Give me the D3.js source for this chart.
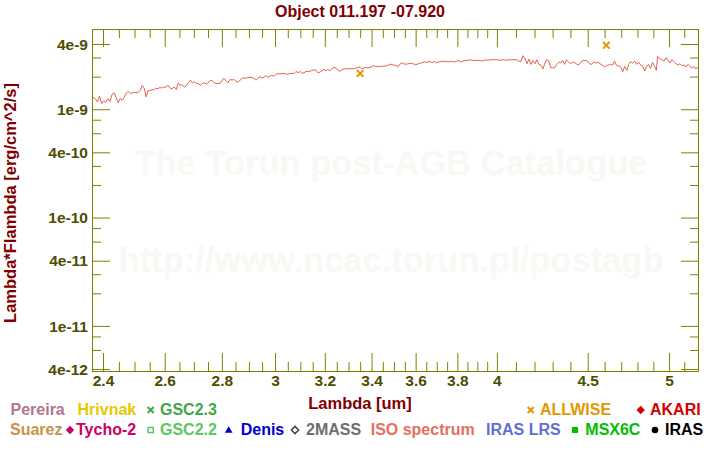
<!DOCTYPE html>
<html>
<head>
<meta charset="utf-8">
<script src="https://cdn.jsdelivr.net/npm/d3@7"></script>
<style>
  html, body { margin: 0; padding: 0; background: #fff; }
  svg { display: block; font-family: "Liberation Sans", Arial, sans-serif; font-weight: bold; }
</style>
</head>
<body>
<svg id="chart" width="720" height="450"></svg>
<script>
// ---- chart data ----
const title = "Object 011.197 -07.920";

const xTickValues = [2.4, 2.6, 2.8, 3, 3.2, 3.4, 3.6, 3.8, 4, 4.5, 5];
const xTickLabels = ["2.4", "2.6", "2.8", "3", "3.2", "3.4", "3.6", "3.8", "4", "4.5", "5"];
const xMinorTicks = [2.45, 2.5, 2.55, 2.65, 2.7, 2.75, 2.85, 2.9, 2.95, 3.05, 3.1, 3.15,
  3.25, 3.3, 3.35, 3.45, 3.5, 3.55, 3.65, 3.7, 3.75, 3.85, 3.9, 3.95,
  4.1, 4.2, 4.3, 4.4, 4.6, 4.7, 4.8, 4.9, 5.1];

const yTickValues = [4e-12, 1e-11, 4e-11, 1e-10, 4e-10, 1e-9, 4e-9];
const yTickLabels = ["4e-12", "1e-11", "4e-11", "1e-10", "4e-10", "1e-9", "4e-9"];
const yMinorTicks = [6e-12, 8e-12, 2e-11, 3e-11, 6e-11, 8e-11, 2e-10, 3e-10, 6e-10, 8e-10, 2e-9, 3e-9];

// ISO spectrum, wavelength in um, flux in 1e-9 erg/cm^2/s
const isoWave = [
  2.365, 2.370, 2.376, 2.383, 2.389, 2.396, 2.402, 2.409, 2.415, 2.422,
  2.428, 2.435, 2.441, 2.448, 2.454, 2.461, 2.467, 2.474, 2.480, 2.487,
  2.493, 2.499, 2.512, 2.519, 2.525, 2.532, 2.538, 2.545, 2.551, 2.558,
  2.564, 2.571, 2.577, 2.584, 2.590, 2.597, 2.604, 2.611, 2.618, 2.625,
  2.632, 2.639, 2.646, 2.653, 2.660, 2.667, 2.674, 2.681, 2.688, 2.695,
  2.702, 2.709, 2.716, 2.723, 2.730, 2.737, 2.744, 2.751, 2.758, 2.765,
  2.772, 2.779, 2.793, 2.800, 2.807, 2.815, 2.822, 2.830, 2.837, 2.845,
  2.852, 2.860, 2.867, 2.875, 2.890, 2.897, 2.912, 2.920, 2.927, 2.935,
  2.942, 2.950, 2.957, 2.965, 2.972, 2.980, 2.987, 2.995, 3.003, 3.011,
  3.019, 3.027, 3.035, 3.043, 3.051, 3.059, 3.075, 3.083, 3.091, 3.099,
  3.107, 3.115, 3.123, 3.139, 3.147, 3.163, 3.171, 3.180, 3.188, 3.196,
  3.204, 3.212, 3.221, 3.230, 3.238, 3.247, 3.255, 3.264, 3.272, 3.290,
  3.324, 3.341, 3.350, 3.358, 3.367, 3.375, 3.384, 3.392, 3.401, 3.410,
  3.419, 3.428, 3.437, 3.446, 3.464, 3.473, 3.483, 3.492, 3.510, 3.519,
  3.528, 3.537, 3.546, 3.564, 3.573, 3.582, 3.591, 3.600, 3.610, 3.620,
  3.629, 3.639, 3.658, 3.668, 3.677, 3.687, 3.697, 3.706, 3.725, 3.745,
  3.754, 3.764, 3.774, 3.783, 3.793, 3.803, 3.813, 3.823, 3.833, 3.843,
  3.853, 3.863, 3.873, 3.914, 3.924, 3.934, 3.944, 3.954, 3.964, 4.005,
  4.016, 4.027, 4.038, 4.049, 4.060, 4.104, 4.115, 4.126, 4.137, 4.148,
  4.159, 4.170, 4.181, 4.192, 4.203, 4.213, 4.224, 4.235, 4.246, 4.257,
  4.268, 4.279, 4.290, 4.301, 4.312, 4.323, 4.334, 4.345, 4.356, 4.367,
  4.378, 4.389, 4.400, 4.411, 4.422, 4.433, 4.444, 4.455, 4.466, 4.477,
  4.499, 4.511, 4.523, 4.536, 4.548, 4.561, 4.573, 4.585, 4.598, 4.610,
  4.622, 4.635, 4.647, 4.659, 4.672, 4.684, 4.697, 4.709, 4.721, 4.734,
  4.746, 4.758, 4.771, 4.783, 4.795, 4.808, 4.820, 4.832, 4.845, 4.857,
  4.869, 4.882, 4.894, 4.906, 4.919, 4.927, 4.944, 4.956, 4.968, 4.981,
  4.993, 5.006, 5.019, 5.032, 5.046, 5.059, 5.072, 5.085, 5.099, 5.112,
  5.125, 5.138, 5.152, 5.165, 5.178, 5.191
];
const isoFlux = [
  1.230, 1.284, 1.246, 1.168, 1.320, 1.130, 1.194, 1.161, 1.246, 1.178,
  1.368, 1.416, 1.284, 1.144, 1.257, 1.212, 1.284, 1.416, 1.459, 1.398,
  1.416, 1.428, 1.428, 1.500, 1.657, 1.555, 1.299, 1.500, 1.478, 1.522,
  1.500, 1.565, 1.542, 1.589, 1.565, 1.609, 1.589, 1.669, 1.565, 1.542,
  1.609, 1.522, 1.752, 1.657, 1.679, 1.609, 1.657, 1.752, 1.856, 1.752,
  1.806, 1.730, 1.730, 1.657, 1.730, 1.752, 1.704, 1.752, 1.840, 1.836,
  1.752, 1.730, 1.730, 1.830, 1.937, 1.830, 1.752, 1.884, 1.856, 1.884,
  1.806, 1.779, 1.856, 1.937, 1.937, 1.966, 1.966, 1.908, 1.856, 1.937,
  1.992, 1.937, 1.966, 2.052, 1.966, 2.022, 2.052, 2.022, 2.079, 2.140,
  2.110, 2.140, 2.140, 2.110, 2.110, 2.140, 2.140, 2.234, 2.171, 2.234,
  2.140, 2.171, 2.234, 2.234, 2.298, 2.298, 2.171, 2.202, 2.263, 2.332,
  2.263, 2.332, 2.263, 2.382, 2.431, 2.398, 2.298, 2.234, 2.332, 2.363,
  2.363, 2.431, 2.465, 2.363, 2.398, 2.431, 2.398, 2.431, 2.465, 2.537,
  2.465, 2.502, 2.465, 2.502, 2.502, 2.537, 2.611, 2.572, 2.537, 2.465,
  2.611, 2.686, 2.611, 2.611, 2.650, 2.650, 2.611, 2.572, 2.611, 2.650,
  2.686, 2.725, 2.725, 2.766, 2.686, 2.766, 2.686, 2.725, 2.766, 2.766,
  2.725, 2.766, 2.766, 2.737, 2.745, 2.825, 2.745, 2.745, 2.825, 2.825,
  2.825, 2.862, 2.825, 2.825, 2.784, 2.825, 2.862, 2.825, 2.862, 2.862,
  2.825, 2.862, 2.862, 2.825, 2.862, 2.862, 2.784, 2.745, 3.117, 2.949,
  2.628, 2.905, 2.592, 2.825, 2.628, 2.862, 2.592, 2.556, 2.347, 2.668,
  2.862, 2.784, 2.413, 2.413, 2.413, 2.592, 2.707, 2.668, 2.825, 2.592,
  2.862, 2.745, 2.628, 2.707, 2.707, 2.628, 2.556, 2.628, 2.784, 2.825,
  2.784, 2.628, 2.592, 2.745, 2.668, 2.707, 2.628, 2.556, 2.449, 2.518,
  2.556, 2.592, 2.556, 2.784, 2.518, 2.518, 2.449, 2.216, 2.486, 2.283,
  2.592, 2.745, 2.668, 2.784, 2.592, 2.707, 2.556, 2.518, 2.249, 2.486,
  2.592, 2.381, 2.707, 2.518, 2.283, 3.077, 2.905, 2.862, 2.784, 2.988,
  2.825, 2.668, 2.862, 2.745, 2.628, 2.556, 2.628, 2.518, 2.556, 2.449,
  2.592, 2.486, 2.381, 2.486, 2.347, 2.449
];

// ALLWISE photometry, same units
const allwiseWave = [3.35, 4.61];
const allwiseFlux = [2.14, 3.89];

// legend entries
const legendNames = ["Pereira", "Hrivnak", "GSC2.3", "ALLWISE", "AKARI",
  "Suarez", "Tycho-2", "GSC2.2", "Denis", "2MASS", "ISO spectrum", "IRAS LRS", "MSX6C", "IRAS"];
const legendSymbols = [null, null, "times", "times", "diamond",
  null, "diamond", "squareOpen", "triangle", "diamondOpen", null, null, "square", "circle"];

// ---- styles / layout ----
const colors = {
  "Pereira": "#b27592", "Hrivnak": "#e8c800", "GSC2.3": "#40a848", "ALLWISE": "#e09a00",
  "AKARI": "#d40000", "Suarez": "#c8924a", "Tycho-2": "#cc0066", "GSC2.2": "#5cc860",
  "Denis": "#0000cc", "2MASS": "#6e6e6e", "ISO spectrum": "#e4705e", "IRAS LRS": "#6070d0",
  "MSX6C": "#00c000", "IRAS": "#000000"
};
const markerColors = { "2MASS": "#444444" };
// text x, marker x, row
const legendPos = [
  [10.5, null, 0], [77.5, null, 0], [160, 150.7, 0], [540, 530.7, 0], [650, 640.7, 0],
  [10, null, 1], [76, 70, 1], [160, 150.7, 1], [240.7, 228.7, 1], [306, 295, 1],
  [370.7, null, 1], [486, null, 1], [585.3, 575, 1], [665, 655, 1]
];
const rowBaseline = [415, 435];

const axisColor = "#808000";
const tickLabelColor = "#4d4d00";
const titleColor = "#800000";
const lineColor = "#e26350";

const svg = d3.select("#chart");

const x = d3.scaleLog().domain([2.366, 5.192]).range([92, 698]);
const y = d3.scaleLog().domain([3.92e-12, 5.5e-9]).range([370, 29]);
const [x0, x1] = x.range();
const [y0, y1] = y.range();

svg.append("rect").attr("width", 720).attr("height", 450).attr("fill", "#fff");

// watermark
svg.append("g")
  .attr("fill", "#f9f8f4")
  .attr("font-size", 34.5)
  .attr("text-anchor", "middle")
  .selectAll("text")
  .data([["The Torun post-AGB Catalogue", 175], ["http://www.ncac.torun.pl/postagb", 272]])
  .join("text")
  .attr("x", 391)
  .attr("y", (d) => d[1])
  .text((d) => d[0]);

// spectrum
svg.append("clipPath").attr("id", "clip")
  .append("rect").attr("x", x0).attr("y", y1).attr("width", x1 - x0).attr("height", y0 - y1);

const spectrum = isoWave.map((w, i) => [w, isoFlux[i] * 1e-9]);
svg.append("path")
  .datum(spectrum)
  .attr("clip-path", "url(#clip)")
  .attr("fill", "none")
  .attr("stroke", lineColor)
  .attr("stroke-width", 1)
  .attr("d", d3.line().x((d) => x(d[0])).y((d) => y(d[1])));

// ALLWISE points
const cross = (r) => `M${-r},${-r}L${r},${r}M${-r},${r}L${r},${-r}`;
svg.append("g")
  .selectAll("path")
  .data(allwiseWave.map((w, i) => [w, allwiseFlux[i] * 1e-9]))
  .join("path")
  .attr("transform", (d) => `translate(${x(d[0])},${y(d[1])})`)
  .attr("d", cross(3.3))
  .attr("stroke", colors["ALLWISE"])
  .attr("stroke-width", 2)
  .attr("fill", "none");

// axes
function styleAxis(g, labelSize) {
  g.attr("font-size", null).attr("font-family", null);
  g.select(".domain").remove();
  g.selectAll(".tick line").attr("stroke", axisColor);
  g.selectAll(".tick text").attr("fill", tickLabelColor).attr("font-size", labelSize);
}

const axes = [
  { make: () => d3.axisBottom(x), t: `translate(0,${y0 + 1})`, major: xTickValues, minor: xMinorTicks, labels: xTickLabels },
  { make: () => d3.axisTop(x), t: `translate(0,${y1})`, major: xTickValues, minor: xMinorTicks },
  { make: () => d3.axisLeft(y), t: `translate(${x0},0)`, major: yTickValues, minor: yMinorTicks, labels: yTickLabels },
  { make: () => d3.axisRight(y), t: `translate(${x1 + 1},0)`, major: yTickValues, minor: yMinorTicks }
];

axes.forEach((a) => {
  svg.append("g").attr("transform", a.t)
    .call(a.make().tickValues(a.minor).tickSize(-9).tickFormat(""))
    .call((g) => styleAxis(g, 15.5));
  const g = svg.append("g").attr("transform", a.t)
    .call(a.make().tickValues(a.major).tickSize(-18).tickPadding(4)
      .tickFormat(a.labels ? (d, i) => a.labels[i] : ""))
    .call((g) => styleAxis(g, 15.5));
  if (a.labels === xTickLabels) {
    g.selectAll(".tick text").attr("y", 15).attr("dy", null);
  }
  if (a.labels === yTickLabels) {
    g.selectAll(".tick text").attr("dy", "0.34em");
  }
});

// frame
svg.append("rect")
  .attr("x", x0 + 0.5).attr("y", y1 + 0.5)
  .attr("width", x1 - x0).attr("height", y0 - y1 + 1)
  .attr("fill", "none").attr("stroke", axisColor);

// titles
svg.append("text")
  .attr("x", 360).attr("y", 17)
  .attr("text-anchor", "middle")
  .attr("font-size", 16)
  .attr("fill", titleColor)
  .text(title);

svg.append("text")
  .attr("x", 360).attr("y", 409)
  .attr("text-anchor", "middle")
  .attr("font-size", 16.5)
  .attr("fill", titleColor)
  .text("Lambda [um]");

svg.append("text")
  .attr("transform", "translate(16,203) rotate(-90)")
  .attr("text-anchor", "middle")
  .attr("font-size", 16.5)
  .attr("fill", titleColor)
  .text("Lambda*Flambda [erg/cm^2/s]");

// legend
const markerPath = {
  times: (r) => cross(r),
  diamond: (r) => `M0,${-r}L${r},0L0,${r}L${-r},0Z`,
  diamondOpen: (r) => `M0,${-r}L${r},0L0,${r}L${-r},0Z`,
  squareOpen: (r) => `M${-r},${-r}H${r}V${r}H${-r}Z`,
  square: (r) => `M${-r},${-r}H${r}V${r}H${-r}Z`,
  triangle: (r) => `M0,${-r}L${r},${r * 0.75}L${-r},${r * 0.75}Z`
};
const markerSize = { times: 3, diamond: 4.2, diamondOpen: 3.6, squareOpen: 2.6, square: 3, triangle: 3.8, circle: 3.3 };

const legend = svg.append("g").attr("font-size", 16);
legendNames.forEach((name, i) => {
  const [tx, mx, row] = legendPos[i];
  const base = rowBaseline[row];
  legend.append("text")
    .attr("x", tx).attr("y", base)
    .attr("fill", colors[name])
    .text(name);
  const sym = legendSymbols[i];
  if (!sym) return;
  const col = markerColors[name] || colors[name];
  const cy = base - 5;
  const r = markerSize[sym];
  if (sym === "circle") {
    legend.append("circle").attr("cx", mx).attr("cy", cy).attr("r", r).attr("fill", col);
    return;
  }
  const open = sym === "times" || sym.endsWith("Open");
  legend.append("path")
    .attr("transform", `translate(${mx},${cy})`)
    .attr("d", markerPath[sym](r))
    .attr("fill", open ? "none" : col)
    .attr("stroke", open ? col : "none")
    .attr("stroke-width", sym === "times" ? 2 : 1.5);
});
</script>
</body>
</html>
